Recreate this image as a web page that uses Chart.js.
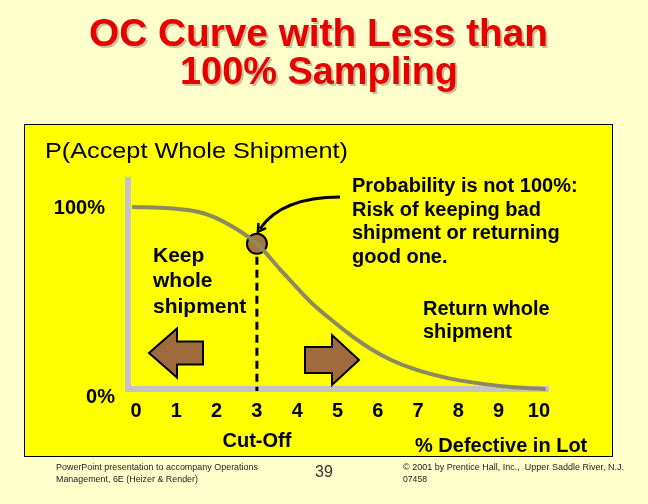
<html>
<head>
    <meta charset="UTF-8">
    <title>OC Curve with Less than 100% Sampling</title>
    <script src="https://cdn.jsdelivr.net/npm/chart.js"></script>
    <style>
        body { margin: 0; background: #FFFFCC; }
        canvas { display: block; }
    </style>
</head>
<body>

<canvas id="ocChart" width="648" height="504"></canvas>

<script>

    // % defective in lot (x) and probability of accepting the shipment (y)
    var pctDefective = [-0.1, 0.85, 1.67, 2.26, 3.0, 3.58, 4.0, 4.4, 4.83, 5.32, 5.82, 6.32, 6.89, 7.74, 8.56, 9.38, 10.17];
    var pAccept      = [100, 99.3, 96.6, 91, 80, 66, 56, 47, 39, 30.5, 23, 17, 12, 7, 4, 2, 1];

    var cutOff = 3;
    var cutOffP = 80;

    var xTicks = [0, 1, 2, 3, 4, 5, 6, 7, 8, 9, 10];
    var yTickLabels = ['100%', '0%'];

    var FONT = '"Liberation Sans", Arial, sans-serif';

    var curve = [];
    for (var i = 0; i < pctDefective.length; i++) {
        curve.push({x: pctDefective[i], y: pAccept[i]});
    }

    // draw text squeezed/stretched to a given width (the slide font runs wide)
    function fitText(ctx, s, x, y, w) {
        var m = ctx.measureText(s).width;
        ctx.save();
        ctx.translate(x, y);
        ctx.scale(w / m, 1);
        ctx.textAlign = 'left';
        ctx.fillText(s, 0, 0);
        ctx.restore();
    }

    function blockArrow(ctx, tipX, tipY, headLen, headH, bodyLen, bodyH, dir) {
        // dir = -1 points left, 1 points right
        var baseX = tipX - dir * headLen;
        var endX = baseX - dir * bodyLen;
        ctx.beginPath();
        ctx.moveTo(tipX, tipY);
        ctx.lineTo(baseX, tipY - headH / 2);
        ctx.lineTo(baseX, tipY - bodyH / 2);
        ctx.lineTo(endX, tipY - bodyH / 2);
        ctx.lineTo(endX, tipY + bodyH / 2);
        ctx.lineTo(baseX, tipY + bodyH / 2);
        ctx.lineTo(baseX, tipY + headH / 2);
        ctx.closePath();
        ctx.fillStyle = '#9E6A3E';
        ctx.fill();
        ctx.lineWidth = 2;
        ctx.strokeStyle = '#000';
        ctx.stroke();
    }

    var slidePlugin = {
        id: 'slide',
        beforeDraw: function (chart) {
            var ctx = chart.ctx;
            var a = chart.chartArea;
            ctx.save();
            ctx.fillStyle = '#FFFFCC';
            ctx.fillRect(0, 0, chart.width, chart.height);

            // yellow panel
            ctx.fillStyle = '#FFFF00';
            ctx.fillRect(24.5, 124.5, 588, 332);
            ctx.strokeStyle = '#000';
            ctx.lineWidth = 1;
            ctx.strokeRect(24.5, 124.5, 588, 332);

            // grey axes
            ctx.fillStyle = '#C4C4C4';
            ctx.fillRect(a.left - 7, 177, 6, a.bottom + 1 - 177);
            ctx.fillRect(a.left - 7, a.bottom - 5, a.right + 2 - (a.left - 7), 6);
            ctx.restore();
        },
        afterDraw: function (chart) {
            var ctx = chart.ctx;
            var xs = chart.scales.x, ys = chart.scales.y;
            ctx.save();

            // title with shadow
            ctx.font = 'bold 38px ' + FONT;
            ctx.textBaseline = 'alphabetic';
            ctx.fillStyle = 'rgba(120,100,80,0.4)';
            fitText(ctx, 'OC Curve with Less than', 91, 48, 459);
            fitText(ctx, '100% Sampling', 182, 86, 278);
            ctx.fillStyle = '#E60000';
            fitText(ctx, 'OC Curve with Less than', 89, 46, 459);
            fitText(ctx, '100% Sampling', 180, 84, 278);

            ctx.fillStyle = '#000';
            ctx.font = '22px ' + FONT;
            fitText(ctx, 'P(Accept Whole Shipment)', 45, 158, 303);

            // y labels
            ctx.font = 'bold 20px ' + FONT;
            ctx.textAlign = 'right';
            ctx.fillText(yTickLabels[0], 105, ys.getPixelForValue(100) + 7);
            ctx.fillText(yTickLabels[1], 115, ys.getPixelForValue(0) + 12);

            // x tick labels
            ctx.textAlign = 'center';
            for (var i = 0; i < xTicks.length; i++) {
                ctx.fillText(String(xTicks[i]), xs.getPixelForValue(xTicks[i]), 417);
            }
            ctx.fillText('Cut-Off', xs.getPixelForValue(cutOff), 447);
            ctx.textAlign = 'left';
            ctx.fillText('% Defective in Lot', 415, 452);

            // annotations
            ctx.font = 'bold 21px ' + FONT;
            ctx.fillText('Keep', 153, 262);
            ctx.fillText('whole', 153, 287);
            ctx.fillText('shipment', 153, 313);

            ctx.font = 'bold 20px ' + FONT;
            var note = ['Probability is not 100%:', 'Risk of keeping bad', 'shipment or returning', 'good one.'];
            for (var j = 0; j < note.length; j++) {
                ctx.fillText(note[j], 352, 192 + j * 23.7);
            }
            ctx.fillText('Return whole', 423, 315);
            ctx.fillText('shipment', 423, 338);

            // curved pointer to the cut-off point
            var px = xs.getPixelForValue(cutOff), py = ys.getPixelForValue(cutOffP);
            var tipX = px + 1, tipY = py - 12;
            ctx.strokeStyle = '#000';
            ctx.lineWidth = 3;
            ctx.beginPath();
            ctx.moveTo(340, 197);
            ctx.quadraticCurveTo(282, 197, tipX + 2, tipY - 3);
            ctx.stroke();
            var ang = Math.atan2(tipY - 197, tipX - 282);
            ctx.beginPath();
            ctx.moveTo(tipX + 9 * Math.cos(ang - 2.6), tipY + 9 * Math.sin(ang - 2.6));
            ctx.lineTo(tipX, tipY);
            ctx.lineTo(tipX + 9 * Math.cos(ang + 2.6), tipY + 9 * Math.sin(ang + 2.6));
            ctx.lineWidth = 2.5;
            ctx.stroke();

            // brown block arrows
            blockArrow(ctx, 149, 353, 28, 49, 26, 23, -1);
            blockArrow(ctx, 359, 360, 27, 50, 27, 26, 1);

            // footer
            ctx.fillStyle = '#222';
            ctx.font = '9px ' + FONT;
            fitText(ctx, 'PowerPoint presentation to accompany Operations', 56, 470, 202);
            fitText(ctx, 'Management, 6E (Heizer & Render)', 56, 482, 142);
            fitText(ctx, '\u00A9 2001 by Prentice Hall, Inc.,  Upper Saddle River, N.J.', 403, 470, 221);
            fitText(ctx, '07458', 403, 482, 24);
            ctx.fillStyle = '#333';
            ctx.font = '16px ' + FONT;
            ctx.textAlign = 'center';
            ctx.fillText('39', 324, 477);

            ctx.restore();
        }
    };

    var ctx = document.getElementById('ocChart');
    var ocChart = new Chart(ctx, {
        type: 'line',
        data: {
            datasets: [{
                label: 'P(Accept)',
                data: curve,
                borderColor: '#8B8A5E',
                borderWidth: 4,
                pointRadius: 0,
                cubicInterpolationMode: 'monotone',
                fill: false,
                clip: false
            }, {
                label: 'Cut-off point',
                data: [{x: cutOff, y: cutOffP}],
                showLine: false,
                pointRadius: 10,
                pointBackgroundColor: '#A5753F',
                pointBorderColor: '#000',
                pointBorderWidth: 2,
                clip: false
            }, {
                label: 'Cut-off line',
                data: [{x: cutOff, y: cutOffP}, {x: cutOff, y: 0}],
                borderColor: '#000',
                borderWidth: 3,
                borderDash: [8, 5],
                pointRadius: 0,
                fill: false
            }]
        },
        options: {
            responsive: false,
            animation: false,
            events: [],
            layout: {padding: {left: 132, right: 101, top: 207, bottom: 113}},
            plugins: {
                legend: {display: false},
                tooltip: {enabled: false}
            },
            scales: {
                x: {type: 'linear', min: -0.1, max: 10.2, display: false},
                y: {type: 'linear', min: 0, max: 100, display: false}
            }
        },
        plugins: [slidePlugin]
    });

</script>
</body>
</html>
